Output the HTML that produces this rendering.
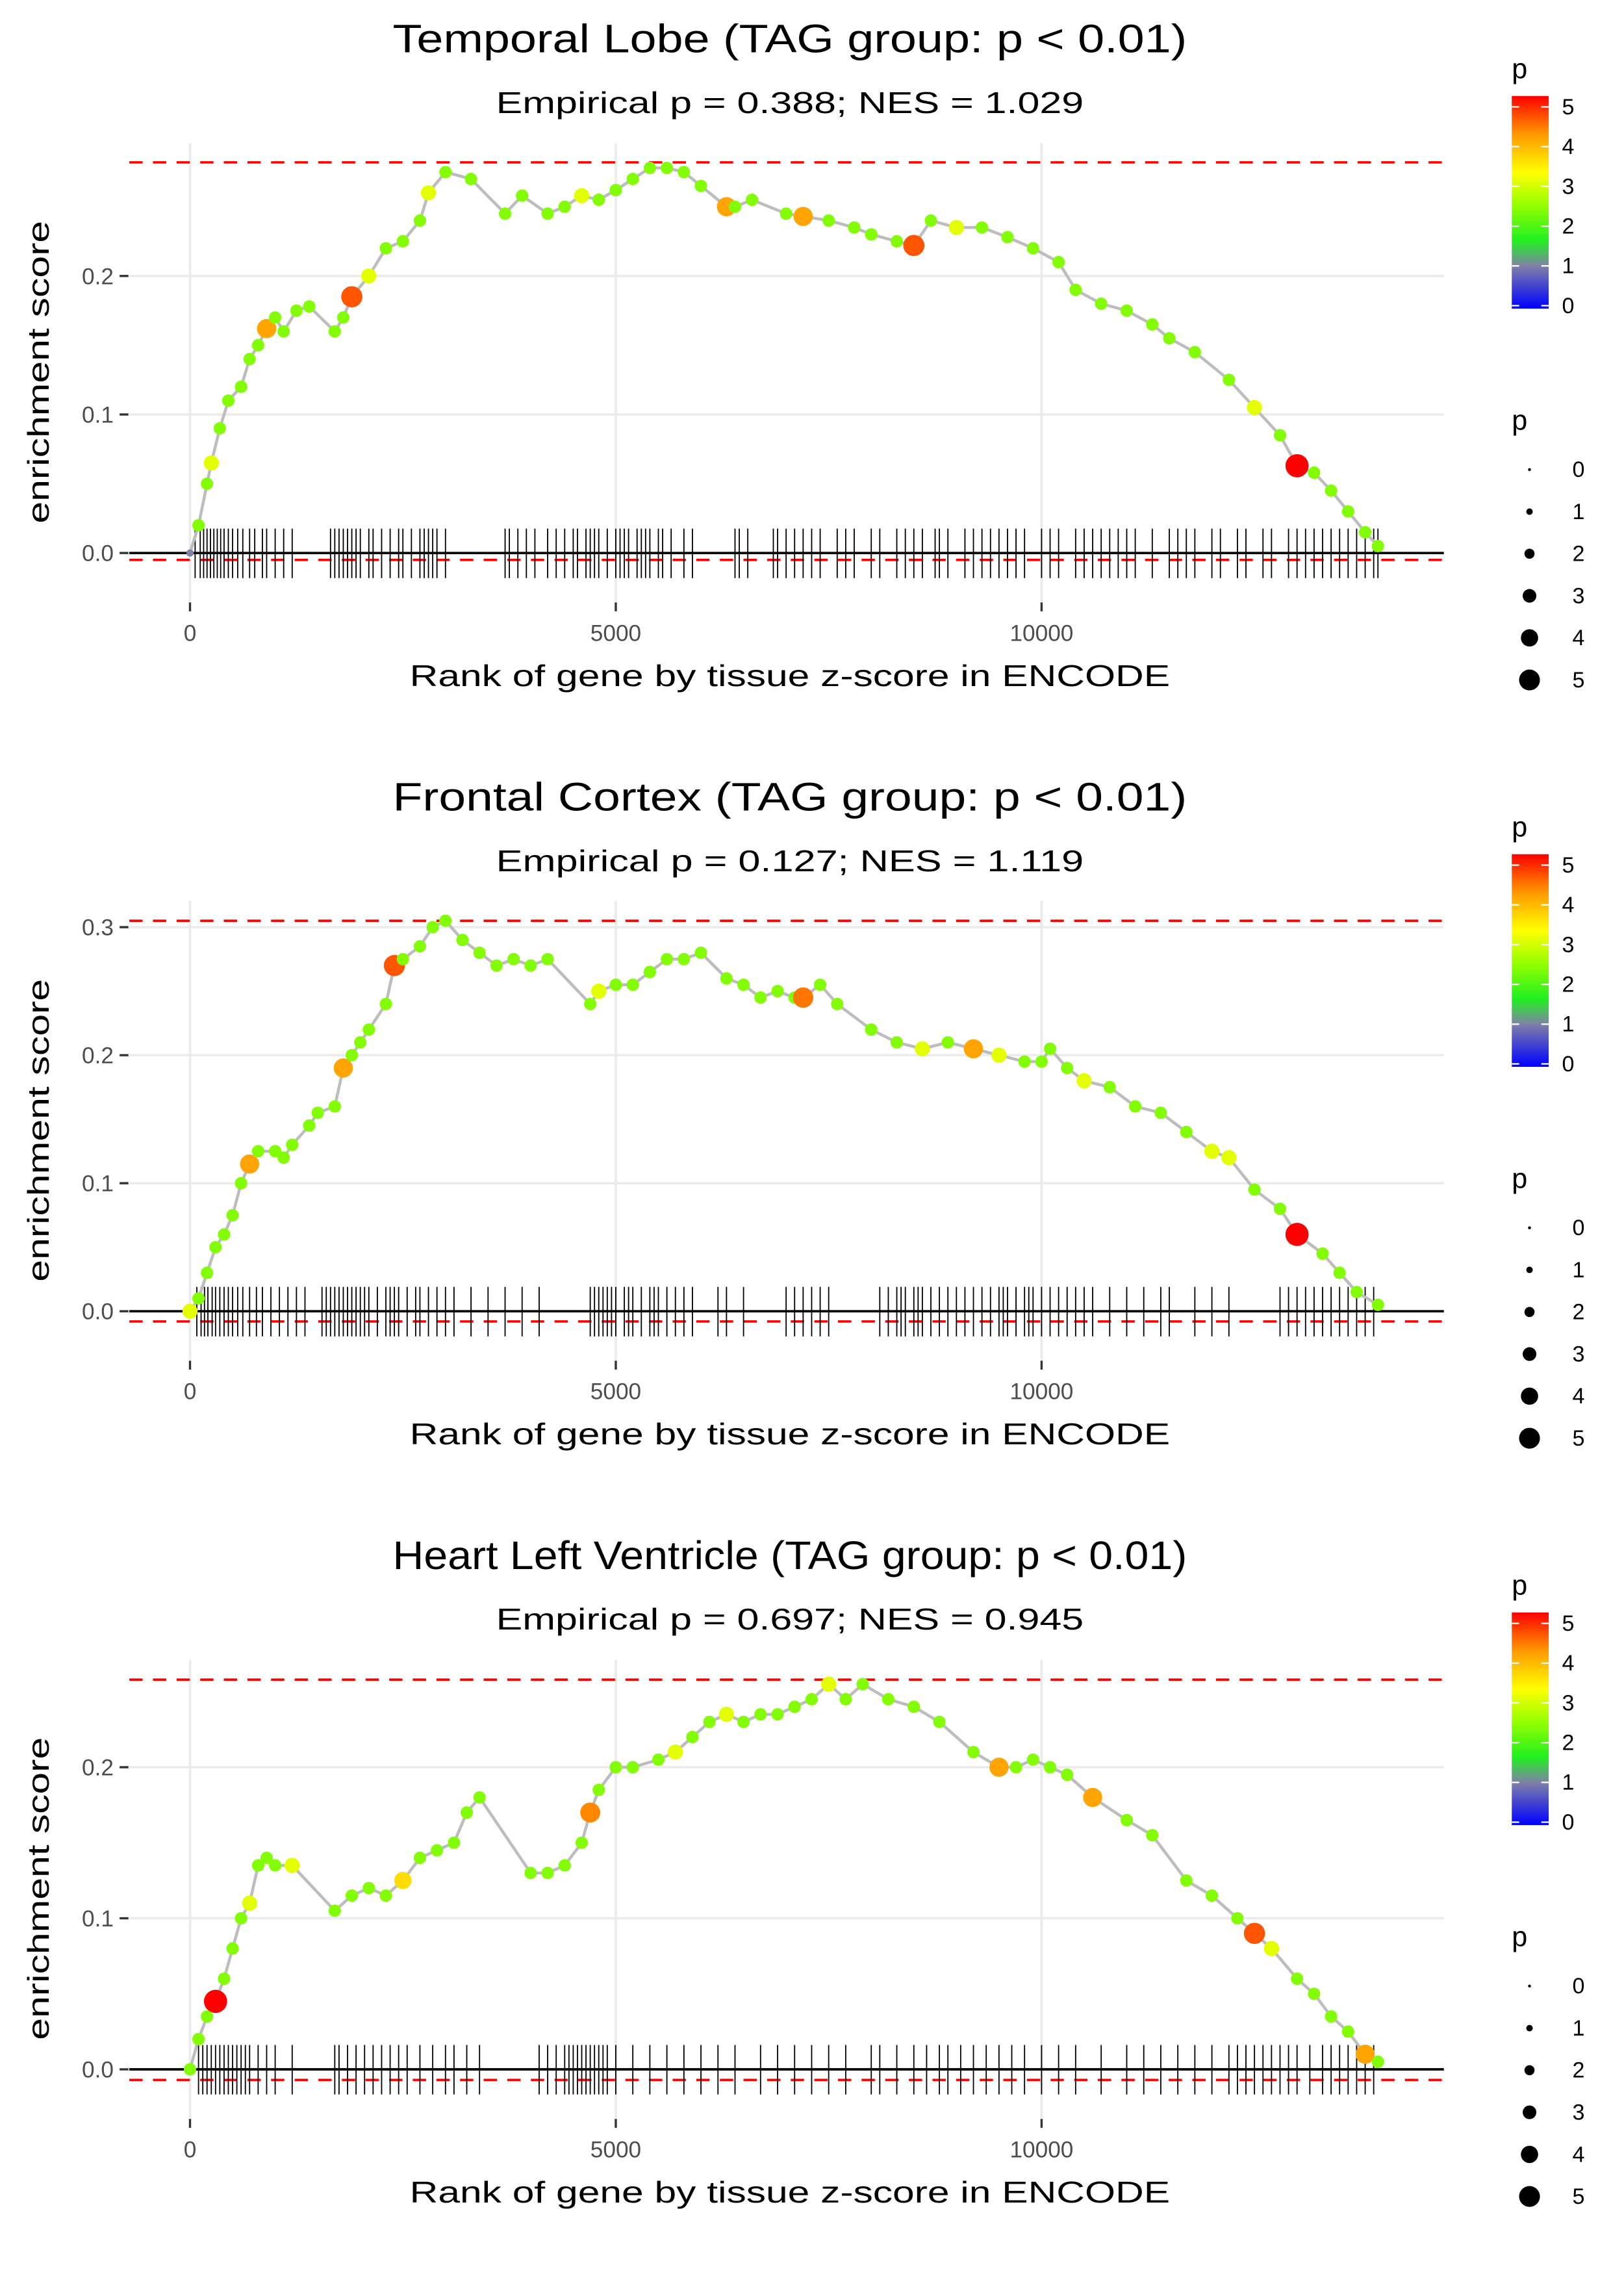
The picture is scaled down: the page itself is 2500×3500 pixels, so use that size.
<!DOCTYPE html>
<html><head><meta charset="utf-8">
<style>
html,body{margin:0;padding:0;background:#fff;}
svg{display:block;font-family:"Liberation Sans",sans-serif;}
</style></head>
<body>
<svg id="chart" width="2500" height="3500" viewBox="0 0 1100 1540" preserveAspectRatio="none" xmlns="http://www.w3.org/2000/svg">
<defs>
<linearGradient id="pgrad" x1="0" y1="1" x2="0" y2="0">
<stop offset="0" stop-color="#0000ff"/>
<stop offset="0.2" stop-color="#8080a8"/>
<stop offset="0.32" stop-color="#20f020"/>
<stop offset="0.48" stop-color="#90ff00"/>
<stop offset="0.64" stop-color="#ffff00"/>
<stop offset="0.82" stop-color="#ff9900"/>
<stop offset="1" stop-color="#ff0000"/>
</linearGradient>
</defs>
</svg>
<script>
const titles = ["Temporal Lobe (TAG group: p < 0.01)","Frontal Cortex (TAG group: p < 0.01)","Heart Left Ventricle (TAG group: p < 0.01)"];
const subtitles = ["Empirical p = 0.388; NES = 1.029","Empirical p = 0.127; NES = 1.119","Empirical p = 0.697; NES = 0.945"];
const xTicks = [0,5000,10000];
const yTicks1 = [0,0.1,0.2];
const yTicks2 = [0,0.1,0.2,0.3];
const yTicks3 = [0,0.1,0.2];
const redHi = [0.282,0.305,0.258];
const redLo = [-0.005,-0.008,-0.007];
const legendP = [0,1,2,3,4,5];

const ranks1 = [0,100,200,250,350,450,600,700,800,900,
1000,1100,1250,1400,1700,1800,1900,2100,2300,2500,
2700,2800,3000,3300,3700,3900,4200,4400,4600,4800,
5000,5200,5400,5600,5800,6000,6300,6400,6600,7000,
7200,7500,7800,8000,8300,8500,8700,9000,9300,9600,
9900,10200,10400,10700,11000,11300,11500,11800,12200,12500,
12800,13000,13200,13400,13600,13800,13950];
const es1 = [0,0.02,0.05,0.065,0.09,0.11,0.12,0.14,0.15,0.162,
0.17,0.16,0.175,0.178,0.16,0.17,0.185,0.2,0.22,0.225,
0.24,0.26,0.275,0.27,0.245,0.258,0.245,0.25,0.258,0.255,
0.262,0.27,0.278,0.278,0.275,0.265,0.25,0.25,0.255,0.245,
0.243,0.24,0.235,0.23,0.225,0.222,0.24,0.235,0.235,0.228,
0.22,0.21,0.19,0.18,0.175,0.165,0.155,0.145,0.125,0.105,
0.085,0.063,0.058,0.045,0.03,0.015,0.005];
const p1 = [1,2.3,2.3,3,2.3,2.3,2.3,2.3,2.3,4,
2.3,2.3,2.3,2.3,2.3,2.3,4.5,3,2.3,2.3,
2.3,3,2.3,2.3,2.3,2.3,2.3,2.3,3,2.3,
2.3,2.3,2.3,2.3,2.3,2.3,4,2.3,2.3,2.3,
4,2.3,2.3,2.3,2.3,4.5,2.3,3,2.3,2.3,
2.3,2.3,2.3,2.3,2.3,2.3,2.3,2.3,2.3,3,
2.3,5,2.3,2.3,2.3,2.3,2.3];
const rug1 = [60,120,160,200,240,280,320,360,400,450,500,560,620,700,760,850,900,1000,1100,1200,
1650,1700,1750,1800,1850,1900,1950,2000,2100,2150,2250,2350,2450,2500,2600,2700,2750,2800,2850,2900,3000,
3700,3750,3850,3950,4050,4200,4300,4400,4500,4550,4650,4700,4750,4800,4900,5000,5050,5100,5150,5250,5300,5350,5400,5500,5550,
5650,5800,5900,6400,6450,6550,6850,6900,7000,7100,7200,7300,7400,7600,7700,7800,8000,8100,8300,8400,8500,8600,8750,8800,8900,
9100,9200,9300,9400,9500,9600,9700,9800,10000,10100,10200,10400,10500,10600,10700,10800,10900,11000,11100,11300,11500,11600,
11700,11800,12000,12100,12300,12400,12600,12700,12900,13000,13100,13200,13300,13400,13500,13600,13700,13800,13900,13950];

const ranks2 = [0,100,200,300,400,500,600,700,800,1000,
1100,1200,1400,1500,1700,1800,1900,2000,2100,2300,
2400,2500,2700,2850,3000,3200,3400,3600,3800,4000,
4200,4700,4800,5000,5200,5400,5600,5800,6000,6300,
6500,6700,6900,7100,7200,7400,7600,8000,8300,8600,
8900,9200,9500,9800,10000,10100,10300,10500,10800,11100,
11400,11700,12000,12200,12500,12800,13000,13300,13500,13700,
13950];
const es2 = [0,0.01,0.03,0.05,0.06,0.075,0.1,0.115,0.125,0.125,
0.12,0.13,0.145,0.155,0.16,0.19,0.2,0.21,0.22,0.24,
0.27,0.275,0.285,0.3,0.305,0.29,0.28,0.27,0.275,0.27,
0.275,0.24,0.25,0.255,0.255,0.265,0.275,0.275,0.28,0.26,
0.255,0.245,0.25,0.245,0.245,0.255,0.24,0.22,0.21,0.205,
0.21,0.205,0.2,0.195,0.195,0.205,0.19,0.18,0.175,0.16,
0.155,0.14,0.125,0.12,0.095,0.08,0.06,0.045,0.03,0.015,
0.005];
const p2 = [3,2.3,2.3,2.3,2.3,2.3,2.3,4,2.3,2.3,
2.3,2.3,2.3,2.3,2.3,4,2.3,2.3,2.3,2.3,
4.5,2.3,2.3,2.3,2.3,2.3,2.3,2.3,2.3,2.3,
2.3,2.3,3,2.3,2.3,2.3,2.3,2.3,2.3,2.3,
2.3,2.3,2.3,2.3,4.3,2.3,2.3,2.3,2.3,3,
2.3,4,3,2.3,2.3,2.3,2.3,3,2.3,2.3,
2.3,2.3,3,3,2.3,2.3,5,2.3,2.3,2.3,
2.3];
const rug2 = [80,130,170,210,260,300,350,400,450,500,560,620,700,780,850,950,1050,1150,1250,1350,
1550,1600,1650,1700,1750,1800,1850,1900,1950,2000,2050,2100,2200,2300,2350,2400,2450,2550,2650,2700,2800,2900,3000,3100,
3300,3500,3700,3900,4100,4700,4750,4800,4850,4900,4950,5000,5100,5150,5200,5300,5400,5450,5500,5600,5700,5800,5900,
6200,6300,6500,7000,7100,7200,7300,7400,7500,8100,8200,8300,8350,8400,8500,8550,8600,8700,8800,8900,9000,9100,9200,9300,
9400,9500,9550,9600,9700,9800,9850,9900,10000,10100,10200,10300,10400,10500,10600,10800,11000,11200,11400,11500,11800,12000,12200,
12800,12900,13000,13100,13200,13300,13400,13500,13600,13700,13800,13900];

const ranks3 = [0,100,200,300,400,500,600,700,800,900,
1000,1200,1700,1900,2100,2300,2500,2700,2900,3100,
3250,3400,4000,4200,4400,4600,4700,4800,5000,5200,
5500,5700,5900,6100,6300,6500,6700,6900,7100,7300,
7500,7700,7900,8200,8500,8800,9200,9500,9700,9900,
10100,10300,10600,11000,11300,11700,12000,12300,12500,12700,
13000,13200,13400,13600,13800,13950];
const es3 = [0,0.02,0.035,0.045,0.06,0.08,0.1,0.11,0.135,0.14,
0.135,0.135,0.105,0.115,0.12,0.115,0.125,0.14,0.145,0.15,
0.17,0.18,0.13,0.13,0.135,0.15,0.17,0.185,0.2,0.2,
0.205,0.21,0.22,0.23,0.235,0.23,0.235,0.235,0.24,0.245,
0.255,0.245,0.255,0.245,0.24,0.23,0.21,0.2,0.2,0.205,
0.2,0.195,0.18,0.165,0.155,0.125,0.115,0.1,0.09,0.08,
0.06,0.05,0.035,0.025,0.01,0.005];
const p3 = [2.3,2.3,2.3,5,2.3,2.3,2.3,3,2.3,2.3,
2.3,3,2.3,2.3,2.3,2.3,3.5,2.3,2.3,2.3,
2.3,2.3,2.3,2.3,2.3,2.3,4.2,2.3,2.3,2.3,
2.3,3,2.3,2.3,3,2.3,2.3,2.3,2.3,2.3,
3,2.3,2.3,2.3,2.3,2.3,2.3,4,2.3,2.3,
2.3,2.3,4,2.3,2.3,2.3,2.3,2.3,4.5,3,
2.3,2.3,2.3,2.3,4,2.3];
const rug3 = [100,150,200,250,300,350,400,450,500,550,600,650,700,800,900,1000,1200,
1700,1750,1850,1950,2050,2150,2250,2350,2450,2550,2700,2850,3000,3100,3250,3400,
4100,4200,4300,4400,4450,4500,4550,4600,4650,4700,4750,4800,4850,4900,5000,
5200,5400,5600,5800,6000,6200,6400,6700,6900,7100,7300,7500,7700,
8000,8100,8300,8500,8650,8800,8900,9050,9200,9350,9500,9650,9800,10000,10200,10400,10700,
11000,11200,11400,11600,11800,12000,12200,12300,12400,12500,12600,12700,12800,12900,13000,13150,13300,13400,13500,13600,13700,13800,13900];

const NS = "http://www.w3.org/2000/svg";
const svg = document.getElementById('chart');
function mk(tag, attrs, parent){
  const e = document.createElementNS(NS, tag);
  for (const k in attrs) e.setAttribute(k, attrs[k]);
  (parent||svg).appendChild(e);
  return e;
}
const stops = [[0,[0,0,255]],[1,[128,128,168]],[1.6,[32,240,32]],[2.4,[144,255,0]],[3.2,[255,255,0]],[4.1,[255,153,0]],[5,[255,0,0]]];
function pColor(p){
  for (let i=1;i<stops.length;i++){
    if (p<=stops[i][0]){
      const a=stops[i-1], b=stops[i], t=(p-a[0])/(b[0]-a[0]);
      const c=a[1].map((v,j)=>Math.round(v+(b[1][j]-v)*t));
      return 'rgb('+c.join(',')+')';
    }
  }
  return 'rgb(255,0,0)';
}
function pRadius(p){ return 1.1+1.35*p; }

const panels = [
  {ranks:ranks1, es:es1, p:p1, rug:rug1, yt:yTicks1, zero:374.5, unit:938, top:97},
  {ranks:ranks2, es:es2, p:p2, rug:rug2, yt:yTicks2, zero:888, unit:867, top:610},
  {ranks:ranks3, es:es3, p:p3, rug:rug3, yt:yTicks3, zero:1401.4, unit:1023, top:1124}
];
const X0 = 128.7, XS = 288.4/5000, LEFT = 87.6, RIGHT = 978;
const OFF = 513.5;

panels.forEach((P, i) => {
  const g = mk('g', {});
  
  
  const off = i*OFF;
  const xs = r => X0 + r*XS;
  const ys = v => P.zero - v*P.unit;
  const bottom = 408 + off;

  P.yt.forEach(v => {
    const l = mk('line', {x1:LEFT, x2:RIGHT, y1:ys(v), y2:ys(v), stroke:'#ebebeb', 'stroke-width':1.6}, g);
    
    
  });
  xTicks.forEach(t => {
    const l = mk('line', {x1:xs(t), x2:xs(t), y1:P.top, y2:bottom, stroke:'#ebebeb', 'stroke-width':1.6}, g);
    
    
  });
  [redHi[i], redLo[i]].forEach((v, k) => {
    const l = mk('line', {x1:LEFT, x2:RIGHT, y1:ys(v), y2:ys(v), stroke:'#ff0000', 'stroke-width':1.6, 'stroke-dasharray':'9,7'}, g);
    
    
  });
  P.rug.forEach(r => {
    const l = mk('line', {x1:xs(r), x2:xs(r), y1:ys(0)-16.5, y2:ys(0)+17, stroke:'#000', 'stroke-width':0.8}, g);
    
    
  });
  const z = mk('line', {x1:LEFT, x2:RIGHT, y1:ys(0), y2:ys(0), stroke:'#000', 'stroke-width':1.6}, g);
  
  
  const d = P.ranks.map((r,k) => (k?'L':'M') + xs(r).toFixed(2) + ',' + ys(P.es[k]).toFixed(2)).join(' ');
  const path = mk('path', {d:d, fill:'none', stroke:'#bdbdbd', 'stroke-width':2}, g);
  
  
  P.ranks.forEach((r,k) => {
    const c = mk('circle', {cx:xs(r), cy:ys(P.es[k]), r:pRadius(P.p[k]), fill:pColor(P.p[k])}, g);
    
    
  });
  P.yt.forEach(v => {
    const tm = mk('line', {x1:81, x2:87, y1:ys(v), y2:ys(v), stroke:'#333', 'stroke-width':1.5}, g);
    
    
    const t = mk('text', {x:77, y:ys(v)+5.5, 'text-anchor':'end', 'font-size':15.5, fill:'#4d4d4d'}, g);
    
    
    t.textContent = v.toFixed(1);
  });
  xTicks.forEach(tk => {
    const tm = mk('line', {x1:xs(tk), x2:xs(tk), y1:408+off, y2:414+off, stroke:'#333', 'stroke-width':1.5}, g);
    
    
    const t = mk('text', {x:xs(tk), y:434+off, 'text-anchor':'middle', 'font-size':15.5, fill:'#4d4d4d'}, g);
    
    
    t.textContent = String(tk);
  });
  const tt = mk('text', {x:535, y:35.5+off, 'text-anchor':'middle', 'font-size':27, fill:'#000', textLength:538, lengthAdjust:'spacingAndGlyphs'}, g);
  
  
  tt.textContent = titles[i];
  const st = mk('text', {x:535, y:76.6+off, 'text-anchor':'middle', 'font-size':20.5, fill:'#000', textLength:398, lengthAdjust:'spacingAndGlyphs'}, g);
  
  
  st.textContent = subtitles[i];
  const xl = mk('text', {x:535, y:464.6+off, 'text-anchor':'middle', 'font-size':20.5, fill:'#000', textLength:515, lengthAdjust:'spacingAndGlyphs'}, g);
  
  
  xl.textContent = 'Rank of gene by tissue z-score in ENCODE';
  const cy = 252 + off;
  const yl = mk('text', {x:0, y:0, 'text-anchor':'middle', 'font-size':20.5, fill:'#000', textLength:205, lengthAdjust:'spacingAndGlyphs', transform:'translate(33,'+cy+') rotate(-90)'}, g);
  
  
  yl.textContent = 'enrichment score';

  const lt = mk('text', {x:1024, y:53+off, 'font-size':19, fill:'#000'}, g);
  
  
  lt.textContent = 'p';
  const barTop = 65+off, barBot = 209+off;
  const bar = mk('rect', {x:1024, y:barTop, width:25, height:barBot-barTop, fill:'url(#pgrad)'}, g);
  
  
  legendP.forEach(v => {
    const yy = barBot - 2 - v*(barBot-barTop-4)/5.2;
    mk('line', {x1:1024, x2:1029, y1:yy, y2:yy, stroke:'#fff', 'stroke-width':1}, g);
    mk('line', {x1:1044, x2:1049, y1:yy, y2:yy, stroke:'#fff', 'stroke-width':1}, g);
    const t = mk('text', {x:1058, y:yy+5, 'font-size':15, fill:'#000'}, g);
    
    
    t.textContent = String(v);
  });
  const sl = mk('text', {x:1024, y:291+off, 'font-size':19, fill:'#000'}, g);
  
  
  sl.textContent = 'p';
  legendP.forEach((v,k) => {
    const yy = 318 + k*28.5 + off;
    const c = mk('circle', {cx:1036, cy:yy, r:pRadius(v)*0.9, fill:'#000'}, g);
    
    
    const t = mk('text', {x:1065, y:yy+5, 'font-size':15, fill:'#000'}, g);
    
    
    t.textContent = String(v);
  });
});
</script>
</body></html>
